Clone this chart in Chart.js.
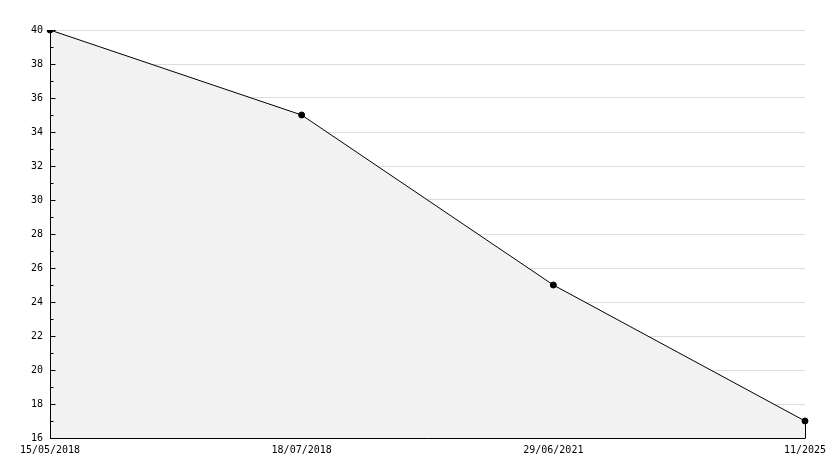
<!DOCTYPE html>
<html>
<head>
<meta charset="utf-8">
<script src="https://cdn.jsdelivr.net/npm/chart.js@4/dist/chart.umd.min.js"></script>
<style>
  html, body { margin: 0; padding: 0; background: #fff; }
  #wrap { width: 834px; height: 468px; }
</style>
</head>
<body>
<div id="wrap"><canvas id="chart" width="834" height="468"></canvas></div>
<script>
const labels = ["15/05/2018", "18/07/2018", "29/06/2021", "11/2025"];
const values = [40, 35, 25, 17];
const yMin = 16;
const yMax = 40;

// axis lines and little ticks drawn over the fill, inside the plot
const innerTicks = {
  id: "innerTicks",
  afterDatasetsDraw(chart) {
    const { ctx, scales, chartArea } = chart;
    const y = scales.y;
    const x0 = Math.round(chartArea.left) + 0.5;
    const yb = Math.round(chartArea.bottom) + 0.5;
    ctx.save();
    ctx.strokeStyle = "#000";
    ctx.lineWidth = 1;
    ctx.beginPath();
    ctx.moveTo(x0, chartArea.top);
    ctx.lineTo(x0, yb);
    ctx.lineTo(chartArea.right, yb);
    ctx.stroke();
    for (let v = yMin; v <= yMax; v++) {
      const py = Math.round(y.getPixelForValue(v)) + 0.5;
      const len = v % 2 === 0 ? 5 : 3;
      ctx.beginPath();
      ctx.moveTo(x0, py);
      ctx.lineTo(x0 + len, py);
      ctx.stroke();
    }
    // right edge of the filled area
    const meta = chart.getDatasetMeta(0);
    const last = meta.data[meta.data.length - 1];
    const px = Math.round(last.x) + 0.5;
    ctx.beginPath();
    ctx.moveTo(px, last.y);
    ctx.lineTo(px, yb);
    ctx.stroke();
    ctx.restore();
  }
};

Chart.defaults.font.family = "'DejaVu Sans Mono', monospace";
Chart.defaults.font.size = 10;
Chart.defaults.color = "#000";

new Chart(document.getElementById("chart"), {
  type: "line",
  data: {
    labels,
    datasets: [
      {
        data: values,
        borderColor: "#000",
        borderWidth: 1,
        backgroundColor: "#f2f2f2",
        fill: "start",
        tension: 0,
        pointRadius: 3,
        pointBackgroundColor: "#000",
        pointBorderColor: "#000",
        pointBorderWidth: 1
      }
    ]
  },
  plugins: [innerTicks],
  options: {
    responsive: false,
    animation: false,
    layout: { padding: { top: 30, right: 29, bottom: 0, left: 0 } },
    plugins: {
      legend: { display: false },
      tooltip: { enabled: false }
    },
    scales: {
      x: {
        type: "category",
        offset: false,
        grid: { display: false, drawTicks: false },
        border: { display: false },
        ticks: { maxRotation: 0, autoSkip: false, padding: 6 },
        afterFit(scale) { scale.height = 30; }
      },
      y: {
        min: yMin,
        max: yMax,
        grid: { color: "#dddddd", drawTicks: false },
        border: { display: false },
        ticks: { stepSize: 2, padding: 7 },
        afterFit(scale) { scale.width = 50; }
      }
    }
  }
});
</script>
</body>
</html>
